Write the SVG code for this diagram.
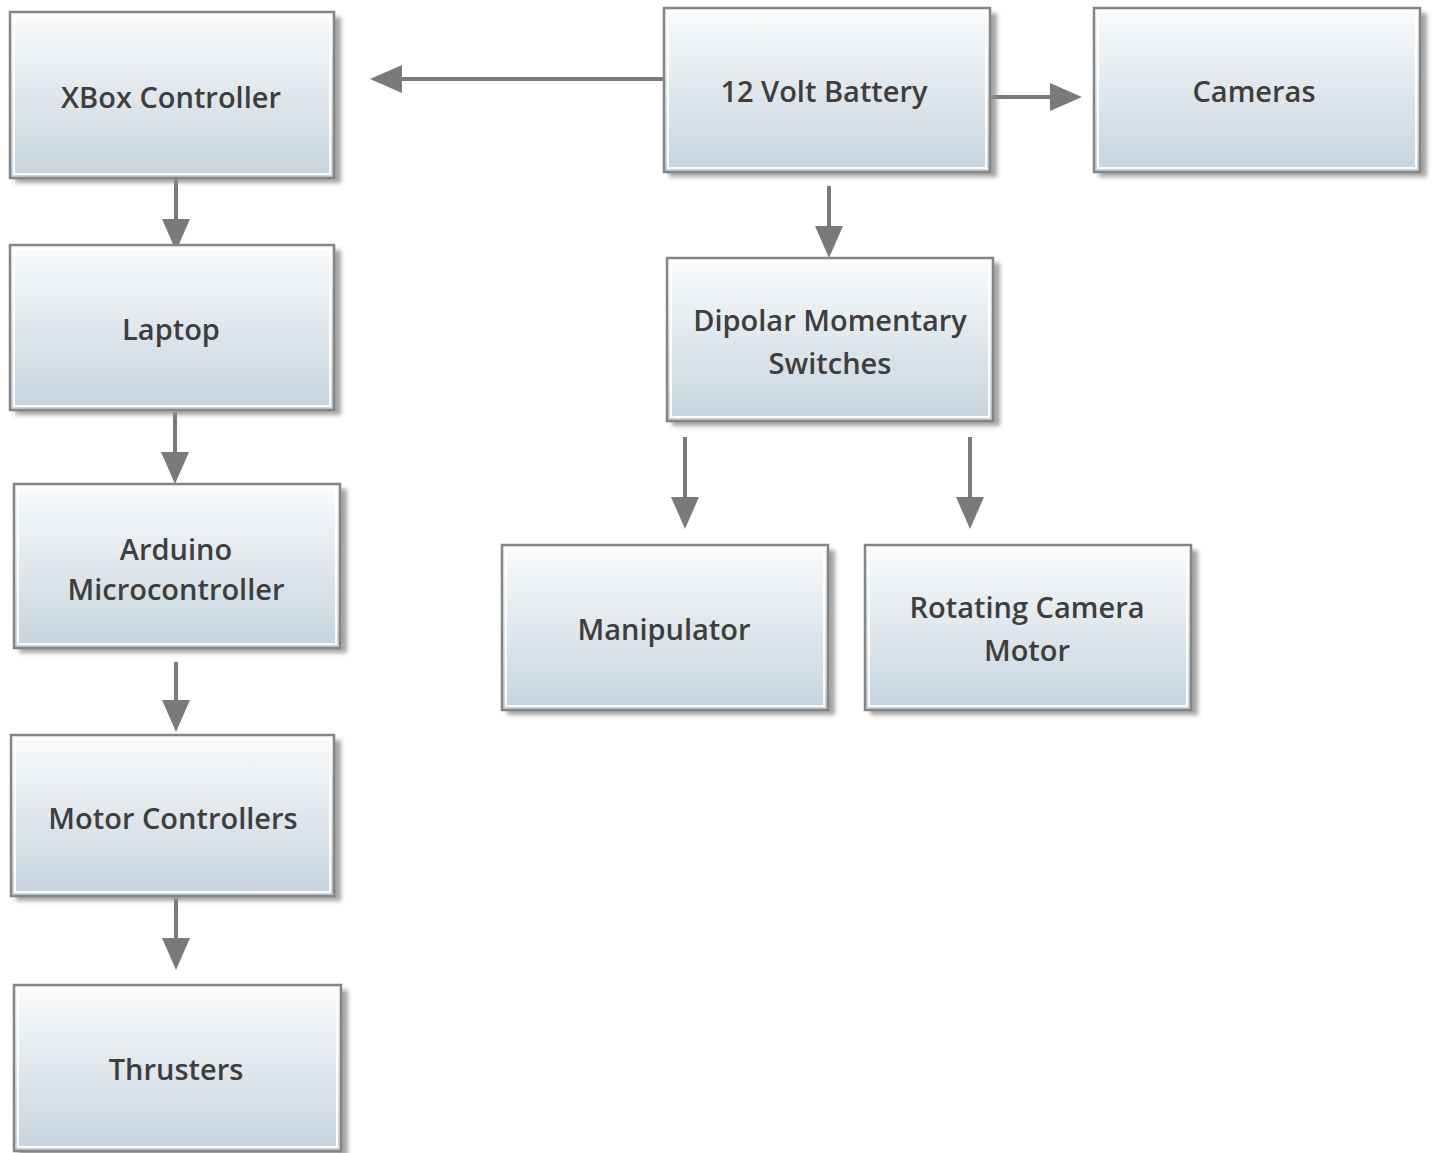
<svg xmlns="http://www.w3.org/2000/svg" width="1439" height="1153" viewBox="0 0 1439 1153">
<style>
.box{fill:url(#g);stroke:#858585;stroke-width:2.5}
.inner{fill:none;stroke:#ffffff;stroke-width:2;opacity:0.9}
.sh{fill:#8f8f8f;opacity:0.8}
.t{font-family:"Open Sans","Liberation Sans",sans-serif;font-size:29px;font-weight:600;fill:#3e3e3e;text-anchor:middle;dominant-baseline:central}
.c{stroke:#7a7a7a;stroke-width:4;fill:none;marker-end:url(#ah)}
</style>
<defs>
<linearGradient id="g" x1="0" y1="0" x2="0" y2="1">
<stop offset="0" stop-color="#fafbfc"/>
<stop offset="1" stop-color="#c6d4de"/>
</linearGradient>
<filter id="blur" x="-10%" y="-10%" width="130%" height="130%"><feGaussianBlur stdDeviation="2"/></filter>
<marker id="ah" markerWidth="8" markerHeight="7" refX="0" refY="3.5" orient="auto" markerUnits="strokeWidth">
<path d="M0,0 L8,3.5 L0,7 Z" fill="#7a7a7a"/>
</marker>
</defs>
<rect width="1439" height="1153" fill="#ffffff"/>
<g id="connectors">
<path class="c" d="M176,179 V219"/>
<path class="c" d="M175,412 V452"/>
<path class="c" d="M176,662 V700"/>
<path class="c" d="M176,898 V938"/>
<path class="c" d="M664,79 H402"/>
<path class="c" d="M991,97 H1050"/>
<path class="c" d="M829,186 V226"/>
<path class="c" d="M685,437 V497"/>
<path class="c" d="M970,437 V497"/>
</g>
<g id="xbox">
<rect class="sh" x="15" y="17" width="326" height="166" filter="url(#blur)"/>
<rect class="box" x="10" y="12" width="324" height="166"/>
<rect class="inner" x="14" y="16" width="316" height="158"/>
<text class="t" x="171" y="96">XBox Controller</text>
</g>
<g id="laptop">
<rect class="sh" x="15" y="250" width="326" height="165" filter="url(#blur)"/>
<rect class="box" x="10" y="245" width="324" height="165"/>
<rect class="inner" x="14" y="249" width="316" height="157"/>
<text class="t" x="171" y="328">Laptop</text>
</g>
<g id="arduino">
<rect class="sh" x="19" y="489" width="328" height="164" filter="url(#blur)"/>
<rect class="box" x="14" y="484" width="326" height="164"/>
<rect class="inner" x="18" y="488" width="318" height="156"/>
<text class="t" x="176" y="548">Arduino</text>
<text class="t" x="176" y="588">Microcontroller</text>
</g>
<g id="motorctl">
<rect class="sh" x="16" y="740" width="325" height="161" filter="url(#blur)"/>
<rect class="box" x="11" y="735" width="323" height="161"/>
<rect class="inner" x="15" y="739" width="315" height="153"/>
<text class="t" x="173" y="817">Motor Controllers</text>
</g>
<g id="thrusters">
<rect class="sh" x="19" y="990" width="329" height="166" filter="url(#blur)"/>
<rect class="box" x="14" y="985" width="327" height="166"/>
<rect class="inner" x="18" y="989" width="319" height="158"/>
<text class="t" x="176" y="1068">Thrusters</text>
</g>
<g id="battery">
<rect class="sh" x="669" y="13" width="328" height="164" filter="url(#blur)"/>
<rect class="box" x="664" y="8" width="326" height="164"/>
<rect class="inner" x="668" y="12" width="318" height="156"/>
<text class="t" x="824" y="90">12 Volt Battery</text>
</g>
<g id="cameras">
<rect class="sh" x="1099" y="13" width="328" height="164" filter="url(#blur)"/>
<rect class="box" x="1094" y="8" width="326" height="164"/>
<rect class="inner" x="1098" y="12" width="318" height="156"/>
<text class="t" x="1254" y="90">Cameras</text>
</g>
<g id="dipolar">
<rect class="sh" x="672" y="263" width="328" height="163" filter="url(#blur)"/>
<rect class="box" x="667" y="258" width="326" height="163"/>
<rect class="inner" x="671" y="262" width="318" height="155"/>
<text class="t" x="830" y="319">Dipolar Momentary</text>
<text class="t" x="830" y="362">Switches</text>
</g>
<g id="manipulator">
<rect class="sh" x="507" y="550" width="328" height="165" filter="url(#blur)"/>
<rect class="box" x="502" y="545" width="326" height="165"/>
<rect class="inner" x="506" y="549" width="318" height="157"/>
<text class="t" x="664" y="628">Manipulator</text>
</g>
<g id="rotating">
<rect class="sh" x="870" y="550" width="328" height="165" filter="url(#blur)"/>
<rect class="box" x="865" y="545" width="326" height="165"/>
<rect class="inner" x="869" y="549" width="318" height="157"/>
<text class="t" x="1027" y="606">Rotating Camera</text>
<text class="t" x="1027" y="649">Motor</text>
</g>
</svg>
